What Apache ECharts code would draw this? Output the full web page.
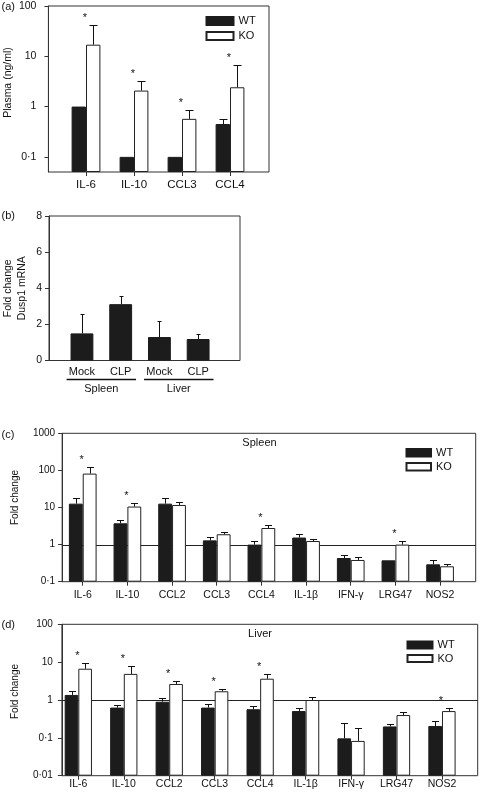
<!DOCTYPE html>
<html><head><meta charset="utf-8">
<script src="https://cdn.jsdelivr.net/npm/echarts@6/dist/echarts.min.js"></script>
<style>html,body{margin:0;padding:0;background:#fff}#c{width:480px;height:795px}</style>
</head><body><div id="c"></div>
<script>
// ---------- DATA ----------
// (a) plasma cytokines, ng/ml
const aCats = ['IL-6', 'IL-10', 'CCL3', 'CCL4'];
const aWT = [1, 0.1, 0.1, 0.45];
const aWTErr = [null, null, null, 0.56];
const aKO = [17, 2.08, 0.57, 2.42];
const aKOErr = [42, 3.2, 0.87, 6.7];
const aSig = [1, 1, 1, 1];
const aTicks = [0.1, 1, 10, 100];

// (b) Dusp1 mRNA fold change
const bCats = ['Mock', 'CLP', 'Mock', 'CLP'];
const bVals = [1.5, 3.12, 1.3, 1.19];
const bErr = [2.56, 3.59, 2.18, 1.46];
const bGroups = ['Spleen', 'Liver'];
const bGroupStart = [0, 2];
const bGroupEnd = [1, 3];

// (c) spleen fold change
const cCats = ['IL-6', 'IL-10', 'CCL2', 'CCL3', 'CCL4', 'IL-1β', 'IFN-γ', 'LRG47', 'NOS2'];
const cWT = [12.7, 3.75, 12.7, 1.3, 1.0, 1.55, 0.435, 0.377, 0.294];
const cWTErr = [18, 4.7, 18.5, 1.57, 1.23, 1.93, 0.515, null, 0.377];
const cKO = [82, 10.6, 11.7, 1.9, 2.8, 1.25, 0.385, 1.0, 0.26];
const cKOErr = [124, 13, 13.8, 2.2, 3.46, 1.42, 0.475, 1.23, 0.3];
const cSig = [1, 1, 0, 0, 1, 0, 0, 1, 0];
const cTicks = [0.1, 1, 10, 100, 1000];

// (d) liver fold change
const dCats = ['IL-6', 'IL-10', 'CCL2', 'CCL3', 'CCL4', 'IL-1β', 'IFN-γ', 'LRG47', 'NOS2'];
const dWT = [1.36, 0.63, 0.9, 0.63, 0.57, 0.51, 0.097, 0.2, 0.206];
const dWTErr = [1.7, 0.72, 1.13, 0.8, 0.68, 0.6, 0.24, 0.236, 0.28];
const dKO = [6.7, 4.9, 2.65, 1.7, 3.65, 1.0, 0.083, 0.4, 0.51];
const dKOErr = [9.3, 7.8, 3.2, 2.0, 4.8, 1.22, 0.18, 0.49, 0.63];
const dSig = [1, 1, 1, 1, 1, 0, 0, 0, 1];
const dTicks = [0.01, 0.1, 1, 10, 100];

// ---------- STYLE ----------
const FONT = "'Liberation Sans', Arial, Helvetica, sans-serif";
const TXT = '#111';
const LINE = '#333';
const BAR = '#1c1c1c';

const option = {
  animation: false,
  backgroundColor: '#fff',
  grid: [], xAxis: [], yAxis: [], series: [], legend: [], graphic: []
};

function fmtTick(ticks) {
  return function (v) {
    const ok = ticks.some(t => Math.abs(t - v) / t < 1e-6);
    if (!ok) return '';
    return String(+(+v).toPrecision(6)).replace('.', '·');
  };
}

function crisp(x) { return Math.round(x) + 0.5; }

function errRender(frac, nBars, capW) {
  return function (params, api) {
    const cat = api.value(0), v = api.value(1), e = api.value(2), side = api.value(3);
    const band = api.size([1, 0])[0];
    const bw = band * frac;
    const off = nBars === 1 ? 0 : (side === 0 ? -bw / 2 : bw / 2);
    const p0 = api.coord([cat, v]);
    const p1 = api.coord([cat, e]);
    const x = crisp(p0[0] + off);
    const y1 = crisp(p1[1]);
    return {
      type: 'group', children: [
        { type: 'line', shape: { x1: x, y1: p0[1], x2: x, y2: y1 }, style: { stroke: '#111', lineWidth: 1 } },
        { type: 'line', shape: { x1: x - capW / 2, y1: y1, x2: x + capW / 2, y2: y1 }, style: { stroke: '#111', lineWidth: 1 } }
      ]
    };
  };
}

function starRender(params, api) {
  const p = api.coord([api.value(0), api.value(1)]);
  return {
    type: 'text',
    style: { text: '*', x: p[0] - 1, y: p[1] - 7, align: 'center', verticalAlign: 'middle', fontSize: 11, fontFamily: FONT, fill: TXT }
  };
}

function addPanel(cfg) {
  const gi = option.grid.length;
  const xi = option.xAxis.length;
  const yi = option.yAxis.length;
  const [fl, ft, fw, fh] = cfg.frame;
  option.grid.push({ left: fl, top: ft, width: fw, height: fh, show: true, borderColor: LINE, borderWidth: 1, backgroundColor: 'transparent' });
  option.grid.push({ left: cfg.barsLeft, top: ft, width: cfg.barsWidth, height: fh });

  option.xAxis.push({ gridIndex: gi, type: 'value', min: 0, max: 1, show: false });
  option.xAxis.push({
    gridIndex: gi + 1, type: 'category', data: cfg.cats, boundaryGap: true,
    axisLine: { show: false },
    axisTick: { show: cfg.xTicks, alignWithLabel: true, length: 4, lineStyle: { color: LINE } },
    axisLabel: { color: TXT, fontSize: cfg.xFont, fontFamily: FONT, margin: cfg.xMargin, interval: 0 }
  });

  const yBase = cfg.log
    ? { type: 'log', logBase: 10, min: cfg.min, max: cfg.max }
    : { type: 'value', min: cfg.min, max: cfg.max, interval: cfg.interval };

  const yVis = Object.assign({
    gridIndex: gi,
    axisLine: { show: true, lineStyle: { color: LINE } },
    axisTick: { show: true, length: 4, inside: false, lineStyle: { color: LINE } },
    axisLabel: { color: TXT, fontSize: cfg.yFont, fontFamily: FONT, margin: cfg.yMargin },
    splitLine: { show: false },
    minorTick: { show: false },
    name: cfg.yName, nameLocation: 'middle', nameGap: cfg.nameGap,
    nameTextStyle: { color: TXT, fontSize: cfg.nameFont, fontFamily: FONT, lineHeight: 14, padding: cfg.namePad || 0 }
  }, yBase);
  if (cfg.log) {
    yVis.axisTick.customValues = cfg.ticks;
    yVis.axisLabel.customValues = cfg.ticks;
    yVis.axisLabel.formatter = fmtTick(cfg.ticks);
  }
  option.yAxis.push(yVis);
  option.yAxis.push(Object.assign({ gridIndex: gi + 1, show: false, startValue: cfg.min, splitLine: { show: false } }, yBase));

  const bx = xi + 1, by = yi + 1;

  if (cfg.refLine) {
    option.series.push({
      type: 'custom', xAxisIndex: xi, yAxisIndex: yi, silent: true, z: 1,
      data: [[0, 1]],
      renderItem: function (params, api) {
        const p0 = api.coord([0, 1]), p1 = api.coord([1, 1]);
        const y = crisp(p0[1]);
        return { type: 'line', shape: { x1: p0[0], y1: y, x2: p1[0], y2: y }, style: { stroke: '#222', lineWidth: 1 } };
      }
    });
  }

  const errData = [];
  cfg.seriesList.forEach((s, si) => {
    option.series.push({
      type: 'bar', name: s.name, xAxisIndex: bx, yAxisIndex: by, data: s.values,
      barWidth: cfg.barFrac * 100 + '%', barGap: '0%', z: 3, silent: true,
      itemStyle: s.white ? { color: '#fff', borderColor: '#222', borderWidth: 1 } : { color: BAR, borderColor: BAR, borderWidth: 1 }
    });
    s.values.forEach((v, i) => {
      if (s.err[i] != null) errData.push([i, v, s.err[i], si]);
    });
  });
  option.series.push({
    type: 'custom', xAxisIndex: bx, yAxisIndex: by, z: 4, silent: true,
    renderItem: errRender(cfg.barFrac, cfg.seriesList.length, cfg.capW), data: errData
  });

  if (cfg.sig) {
    const starData = [];
    cfg.sig.forEach((f, i) => {
      if (!f) return;
      let top = 0;
      cfg.seriesList.forEach(s => { top = Math.max(top, s.err[i] != null ? s.err[i] : s.values[i]); });
      starData.push([i, top]);
    });
    option.series.push({ type: 'custom', xAxisIndex: bx, yAxisIndex: by, z: 5, silent: true, renderItem: starRender, data: starData });
  }

  if (cfg.legend) {
    option.legend.push(Object.assign({
      data: ['WT', 'KO'], orient: 'vertical', icon: 'rect', padding: 0,
      selectedMode: false,
      textStyle: { color: TXT, fontSize: 11, fontFamily: FONT, lineHeight: 12 }
    }, cfg.legend));
  }
  return { bx, by };
}

// (a)
addPanel({
  frame: [48, 6, 221, 166], barsLeft: 62, barsWidth: 192,
  cats: aCats, xTicks: true, xFont: 11.5, xMargin: 7,
  log: true, min: 0.05, max: 100, ticks: aTicks, yFont: 10.5, yMargin: 12,
  yName: 'Plasma (ng/ml)', nameGap: 27, nameFont: 10.5, namePad: [0, 0, 0, 13],
  barFrac: 0.30, capW: 8,
  seriesList: [
    { name: 'WT', values: aWT, err: aWTErr },
    { name: 'KO', values: aKO, err: aKOErr, white: true }
  ],
  sig: aSig,
  legend: { left: 205.5, top: 15, itemWidth: 27, itemHeight: 8, itemGap: 3 }
});

// (b)
const bRef = addPanel({
  frame: [48, 216, 192, 144.5], barsLeft: 62.6, barsWidth: 154.9,
  cats: bCats, xTicks: false, xFont: 11, xMargin: 6,
  log: false, min: 0, max: 8, interval: 2, yFont: 10.5, yMargin: 7,
  yName: 'Fold change\nDusp1 mRNA', nameGap: 20, nameFont: 10.5,
  barFrac: 0.59, capW: 4,
  seriesList: [{ name: 'Dusp1', values: bVals, err: bErr }]
});
option.series.push({
  type: 'custom', xAxisIndex: bRef.bx, yAxisIndex: bRef.by, z: 5, silent: true, clip: false,
  data: bGroupStart.map((s, i) => [s, bGroupEnd[i]]),
  renderItem: function (params, api) {
    const band = api.size([1, 0])[0];
    const a = api.coord([api.value(0), 0]);
    const b = api.coord([api.value(1), 0]);
    const x1 = a[0] - band / 2 + 4, x2 = b[0] + band / 2 - 4;
    const y = crisp(a[1] + 18.5);
    return {
      type: 'group', children: [
        { type: 'line', shape: { x1: x1, y1: y, x2: x2, y2: y }, style: { stroke: '#111', lineWidth: 1.5 } },
        { type: 'text', style: { text: bGroups[params.dataIndex], x: (x1 + x2) / 2, y: y + 9, align: 'center', verticalAlign: 'middle', fontSize: 11, fontFamily: FONT, fill: TXT } }
      ]
    };
  }
});

// (c)
addPanel({
  frame: [43.3, 433.3, 432.4, 148.4], barsLeft: 60.4, barsWidth: 402,
  cats: cCats, xTicks: true, xFont: 10.5, xMargin: 8,
  log: true, min: 0.1, max: 1000, ticks: cTicks, yFont: 10, yMargin: 7,
  yName: 'Fold change', nameGap: 30, nameFont: 10, namePad: [0, 0, 0, 20],
  barFrac: 0.31, capW: 7, refLine: true,
  seriesList: [
    { name: 'WT', values: cWT, err: cWTErr },
    { name: 'KO', values: cKO, err: cKOErr, white: true }
  ],
  sig: cSig,
  legend: { left: 405.5, top: 446.8, itemWidth: 24.5, itemHeight: 7.5, itemGap: 2 }
});

// (d)
addPanel({
  frame: [42.3, 624.3, 435.4, 151.4], barsLeft: 55.6, barsWidth: 409.1,
  cats: dCats, xTicks: true, xFont: 10.5, xMargin: 3,
  log: true, min: 0.01, max: 100, ticks: dTicks, yFont: 10, yMargin: 9,
  yName: 'Fold change', nameGap: 30, nameFont: 10, namePad: [0, 0, 0, 17],
  barFrac: 0.30, capW: 7, refLine: true,
  seriesList: [
    { name: 'WT', values: dWT, err: dWTErr },
    { name: 'KO', values: dKO, err: dKOErr, white: true }
  ],
  sig: dSig,
  legend: { left: 406.5, top: 639, itemWidth: 25, itemHeight: 7, itemGap: 1.5 }
});

// panel letters & titles
const labels = [
  { t: '(a)', x: 1.5, y: 6.7, align: 'left' },
  { t: '(b)', x: 1.5, y: 216.3, align: 'left' },
  { t: '(c)', x: 1.5, y: 435.3, align: 'left' },
  { t: '(d)', x: 1.5, y: 624.7, align: 'left' },
  { t: 'Spleen', x: 259.5, y: 442.7, align: 'center' },
  { t: 'Liver', x: 260, y: 634, align: 'center' }
];
labels.forEach(l => option.graphic.push({
  type: 'text', x: l.x, y: l.y, silent: true,
  style: { text: l.t, align: l.align, verticalAlign: 'middle', fontSize: 11, fontFamily: FONT, fill: TXT }
}));

const chart = echarts.init(document.getElementById('c'), null, { renderer: 'canvas' });
chart.setOption(option);
</script>
</body></html>
